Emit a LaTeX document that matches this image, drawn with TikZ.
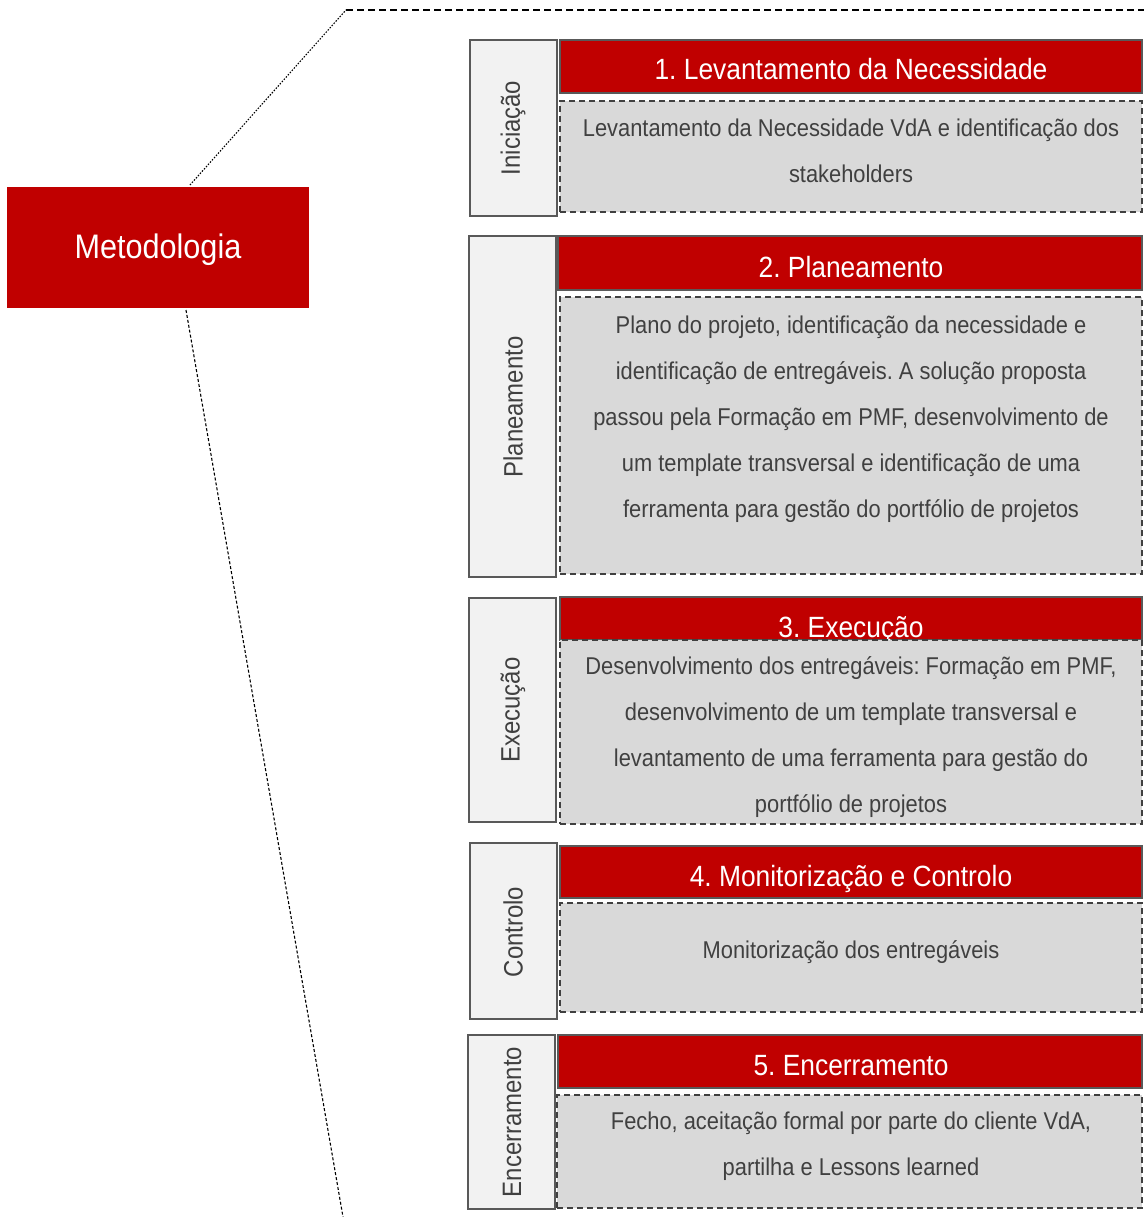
\documentclass[tikz,border=0pt]{standalone}
\usepackage{fontspec}
\setmainfont{Liberation Sans}[FakeStretch=0.9]
\frenchspacing
\definecolor{hdred}{HTML}{C00000}
\definecolor{sidefill}{HTML}{F2F2F2}
\definecolor{bodyfill}{HTML}{D9D9D9}
\definecolor{edgegray}{HTML}{595959}
\definecolor{txtgray}{HTML}{404040}
\tikzset{
  box/.style={rectangle, anchor=north west, inner sep=0pt, outer sep=0pt},
  sidebox/.style={box, draw=edgegray, line width=2pt, fill=sidefill},
  headbox/.style={box, draw=edgegray, line width=1.5pt, fill=hdred},
  bodybox/.style={box, draw=txtgray, line width=1.5pt, dash pattern=on 6pt off 4pt, fill=bodyfill},
  sidetxt/.style={rotate=90, text=txtgray, font=\fontsize{26.6}{30}\selectfont, inner sep=0pt},
  headtxt/.style={anchor=base, text=white, font=\fontsize{29.3}{34}\selectfont, inner sep=0pt},
  bodytxt/.style={text=txtgray, align=center, font=\fontsize{24.3}{46}\selectfont, inner sep=0pt},
  conn/.style={line width=1.1pt, black}
}
\begin{document}
\begin{tikzpicture}[x=1pt,y=-1pt]
\useasboundingbox (0,0) rectangle (1144,1217);
\fill[white] (0,0) rectangle (1144,1217);

% main box
\node[box, fill=hdred, minimum width=302pt, minimum height=121pt] (meth) at (7,187) {};
\node[text=white, font=\fontsize{34}{40}\selectfont, inner sep=0pt] (methtxt) at (158,250) {Metodologia};

% connectors
\coordinate (tcorner) at (346,10);
\coordinate (tend) at (1144,10);
\coordinate (bend) at (343,1217);
\draw[conn, dash pattern=on 1.5pt off 1.5pt] ([xshift=32pt,yshift=2pt]meth.north) -- (tcorner);
\draw[conn, dash pattern=on 7pt off 4pt] (tcorner) -- (tend);
\draw[conn, dash pattern=on 3pt off 2pt] ([xshift=28pt,yshift=-2pt]meth.south) -- (bend);

% section 1
\node[sidebox, minimum width=87pt, minimum height=176pt] (s1) at (470,40) {};
\node[headbox, minimum width=582pt, minimum height=53pt] (h1) at (560,40) {};
\node[bodybox, minimum width=582pt, minimum height=111pt] (b1) at (560,101) {};
\node[sidetxt] (s1t) at (513,128) {Iniciação};
\node[headtxt] (h1t) at (851,80) {1. Levantamento da Necessidade};
\node[bodytxt] (b1t) at (851,151) {Levantamento da Necessidade VdA e identificação dos\\stakeholders};

% section 2
\node[sidebox, minimum width=87pt, minimum height=341pt] (s2) at (469,236) {};
\node[headbox, minimum width=584pt, minimum height=54pt] (h2) at (558,236) {};
\node[bodybox, minimum width=582pt, minimum height=277pt] (b2) at (560,297) {};
\node[sidetxt] (s2t) at (513,407) {Planeamento};
\node[headtxt] (h2t) at (851,277) {2. Planeamento};
\node[bodytxt] (b2t) at (851,419) {Plano do projeto, identificação da necessidade e\\identificação de entregáveis. A solução proposta\\passou pela Formação em PMF, desenvolvimento de\\um template transversal e identificação de uma\\ferramenta para gestão do portfólio de projetos};

% section 3
\node[sidebox, minimum width=87pt, minimum height=224pt] (s3) at (469,598) {};
\node[headbox, minimum width=582pt, minimum height=43pt] (h3) at (560,597) {};
\node[headtxt] (h3t) at (851,637) {3. Execução};
\node[bodybox, minimum width=582pt, minimum height=184pt] (b3) at (560,640) {};
\node[sidetxt] (s3t) at (513,710) {Execução};
\node[bodytxt] (b3t) at (851,737) {Desenvolvimento dos entregáveis: Formação em PMF,\\desenvolvimento de um template transversal e\\levantamento de uma ferramenta para gestão do\\portfólio de projetos};

% section 4
\node[sidebox, minimum width=87pt, minimum height=176pt] (s4) at (470,843) {};
\node[headbox, minimum width=582pt, minimum height=52pt] (h4) at (560,846) {};
\node[bodybox, minimum width=582pt, minimum height=109pt] (b4) at (560,903) {};
\node[sidetxt] (s4t) at (513,932) {Controlo};
\node[headtxt] (h4t) at (851,886) {4. Monitorização e Controlo};
\node[bodytxt] (b4t) at (851,952) {Monitorização dos entregáveis};

% section 5
\node[sidebox, minimum width=87pt, minimum height=174pt] (s5) at (468,1035) {};
\node[headbox, minimum width=584pt, minimum height=53pt] (h5) at (558,1035) {};
\node[bodybox, minimum width=585pt, minimum height=113pt] (b5) at (557,1095) {};
\node[sidetxt] (s5t) at (512,1122) {Encerramento};
\node[headtxt] (h5t) at (851,1075) {5. Encerramento};
\node[bodytxt] (b5t) at (851,1146) {Fecho, aceitação formal por parte do cliente VdA,\\partilha e Lessons learned};
\end{tikzpicture}
\end{document}
